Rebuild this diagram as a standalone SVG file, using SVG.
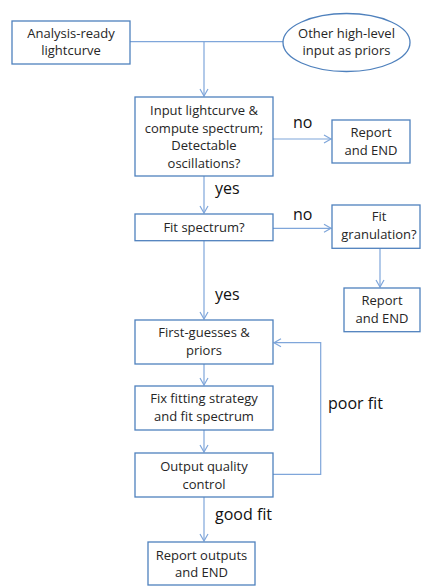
<svg xmlns="http://www.w3.org/2000/svg" width="421" height="588" viewBox="0 0 421 588">
<style>
.box{fill:#fff;stroke:#4F81BD;stroke-width:1.3}
.t{font-family:"Open Sans","Liberation Sans",sans-serif;font-size:13px;fill:#262626;text-anchor:middle}
.lb{font-family:"Open Sans","Liberation Sans",sans-serif;font-size:16px;fill:#111}
.c{fill:none;stroke:#7FA6DA;stroke-width:1.2}
</style>
<defs>
<marker id="ah" markerWidth="10" markerHeight="10" refX="8" refY="5" orient="auto" markerUnits="userSpaceOnUse">
<path d="M1,1 L8,5 L1,9" fill="none" stroke="#7FA6DA" stroke-width="1.2"/>
</marker>
</defs>
<rect width="421" height="588" fill="#fff"/>
<g id="connectors">
<path class="c" d="M130,41.7 H283"/>
<path class="c" d="M204,41.7 V96" marker-end="url(#ah)"/>
<path class="c" d="M273,139 H331" marker-end="url(#ah)"/>
<path class="c" d="M204,176 V213" marker-end="url(#ah)"/>
<path class="c" d="M273,228.3 H331" marker-end="url(#ah)"/>
<path class="c" d="M380,248.5 V287" marker-end="url(#ah)"/>
<path class="c" d="M204,240.7 V319" marker-end="url(#ah)"/>
<path class="c" d="M204,364 V385" marker-end="url(#ah)"/>
<path class="c" d="M204,430 V452" marker-end="url(#ah)"/>
<path class="c" d="M273,474.3 H320.7 V342.7 H274" marker-end="url(#ah)"/>
<path class="c" d="M204,497 V541" marker-end="url(#ah)"/>
<text class="lb" x="293" y="128">no</text>
<text class="lb" x="215" y="194">yes</text>
<text class="lb" x="293" y="220">no</text>
<text class="lb" x="215" y="300">yes</text>
<text class="lb" x="328" y="409">poor fit</text>
<text class="lb" x="215" y="520">good fit</text>
</g>
<g id="analysis">
<rect class="box" x="12" y="21" width="118" height="43"/>
<text class="t" x="71" y="37.5">Analysis-ready</text>
<text class="t" x="71" y="55">lightcurve</text>
</g>
<g id="priors">
<ellipse class="box" cx="346.5" cy="42.5" rx="63.5" ry="29"/>
<text class="t" x="346.5" y="37.5">Other high-level</text>
<text class="t" x="346.5" y="55">input as priors</text>
</g>
<g id="input">
<rect class="box" x="135" y="97" width="138" height="79"/>
<text class="t" x="204" y="114.5">Input lightcurve &amp;</text>
<text class="t" x="204" y="132.5">compute spectrum;</text>
<text class="t" x="204" y="150">Detectable</text>
<text class="t" x="204" y="167.5">oscillations?</text>
</g>
<g id="report1">
<rect class="box" x="332" y="120" width="78" height="43"/>
<text class="t" x="371" y="137">Report</text>
<text class="t" x="371" y="154.5">and END</text>
</g>
<g id="fitspec">
<rect class="box" x="135" y="214" width="138" height="26.7"/>
<text class="t" x="204" y="231.8">Fit spectrum?</text>
</g>
<g id="granulation">
<rect class="box" x="332" y="205" width="88" height="43.3"/>
<text class="t" x="379" y="221">Fit</text>
<text class="t" x="379" y="239">granulation?</text>
</g>
<g id="report2">
<rect class="box" x="344" y="288" width="76" height="43.7"/>
<text class="t" x="382" y="304.5">Report</text>
<text class="t" x="382" y="322.5">and END</text>
</g>
<g id="firstguess">
<rect class="box" x="135" y="320" width="138" height="44"/>
<text class="t" x="204" y="337">First-guesses &amp;</text>
<text class="t" x="204" y="355">priors</text>
</g>
<g id="fixfit">
<rect class="box" x="135" y="386" width="138" height="44"/>
<text class="t" x="204" y="403">Fix fitting strategy</text>
<text class="t" x="204" y="420.5">and fit spectrum</text>
</g>
<g id="quality">
<rect class="box" x="135" y="453" width="138" height="44"/>
<text class="t" x="204" y="470.5">Output quality</text>
<text class="t" x="204" y="488.5">control</text>
</g>
<g id="reportout">
<rect class="box" x="148" y="542" width="107" height="43"/>
<text class="t" x="201.5" y="559.5">Report outputs</text>
<text class="t" x="201.5" y="577">and END</text>
</g>
</svg>
